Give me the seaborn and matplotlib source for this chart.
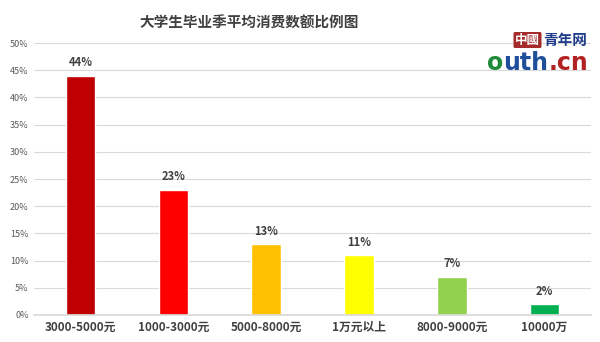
import matplotlib
matplotlib.use("Agg")
import matplotlib.pyplot as plt
import seaborn as sns
import pandas as pd
from matplotlib.ticker import PercentFormatter

categories = ["3000-5000元", "1000-3000元", "5000-8000元", "1万元以上", "8000-9000元", "10000万"]
values = [44, 23, 13, 11, 7, 2]
colors = ["#C00000", "#FF0000", "#FFC000", "#FFFF00", "#92D050", "#00B050"]
yticks = [0, 5, 10, 15, 20, 25, 30, 35, 40, 45, 50]

sns.set_theme(style="white")
plt.rcParams['font.family'] = ['Noto Sans CJK SC', 'DejaVu Sans']

df = pd.DataFrame({"cat": categories, "val": values})
fig = plt.figure(figsize=(6, 3.42), dpi=100)
ax = fig.add_axes([0.057, 0.079, 0.928, 0.795])
sns.barplot(data=df, x="cat", y="val", hue="cat", palette=colors, legend=False,
            width=0.32, ax=ax, saturation=1)
ax.set_ylim(0, 50)
ax.set_yticks(yticks)
ax.yaxis.set_major_formatter(PercentFormatter(decimals=0))
ax.grid(axis="y", color="#D9D9D9", linewidth=0.8)
ax.set_axisbelow(True)
for s in ["top", "right", "left"]:
    ax.spines[s].set_visible(False)
ax.spines["bottom"].set_color("#D9D9D9")
ax.tick_params(axis="y", labelsize=6.5, colors="#595959", length=0, pad=4)
ax.tick_params(axis="x", labelsize=8.5, colors="#404040", length=0, pad=4)
for lbl in ax.get_xticklabels():
    lbl.set_fontweight("bold")
ax.set_xlabel("")
ax.set_ylabel("")
ax.set_xlim(-0.5, 5.5)
for i, v in enumerate(values):
    ax.text(i, v + 1.2, f"{v}%", ha="center", va="bottom", fontsize=8,
            fontweight="bold", color="#404040")
fig.text(0.415, 0.935, "大学生毕业季平均消费数额比例图", ha="center", va="center",
         fontsize=10.5, fontweight="bold", color="#404040")
fig.text(0.9, 0.883, "中國", ha="right", va="center", fontsize=9, fontweight="bold",
         color="white", bbox=dict(boxstyle="round,pad=0.12", fc="#A52A2A", ec="none"))
fig.text(0.905, 0.883, "青年网", ha="left", va="center", fontsize=10.5, fontweight="bold",
         color="#1F3C88")
t1 = fig.text(0.812, 0.78, "o", ha="left", va="bottom", fontsize=17, fontweight="bold",
              color="#1E8B3A", family="DejaVu Sans")
t2 = ax.annotate("uth", xy=(1, 0), xycoords=t1, ha="left", va="bottom", fontsize=17,
                 fontweight="bold", color="#1F4E9A", family="DejaVu Sans", annotation_clip=False)
ax.annotate(".cn", xy=(1, 0), xycoords=t2, ha="left", va="bottom", fontsize=17,
            fontweight="bold", color="#B22222", family="DejaVu Sans", annotation_clip=False)
fig.savefig("out.png", dpi=100)
